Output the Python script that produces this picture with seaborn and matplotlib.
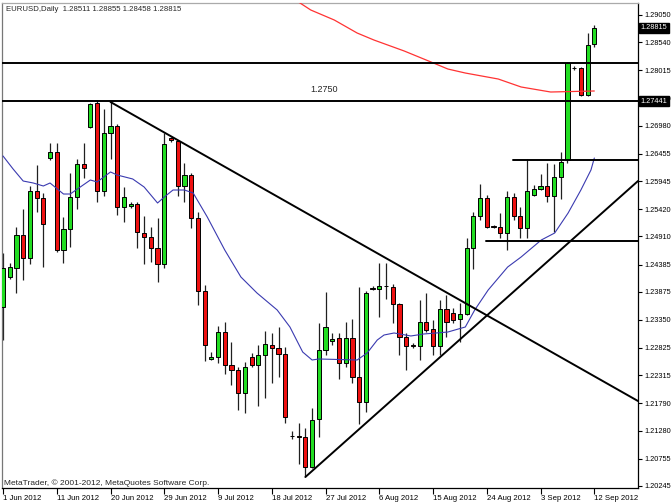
import numpy as np
import pandas as pd
import matplotlib
matplotlib.use("Agg")
import matplotlib.pyplot as plt
import matplotlib.transforms as mtransforms
import seaborn as sns

# daily EURUSD candles, bar 0 = 1 Jun 2012 ... bar 88 = 12 Sep 2012 (sunday bars included)
opens = [
    1.23591, 1.24152, 1.24320, 1.24937, 1.24507, 1.25759, 1.25628, 1.26376, 1.26488, 1.24656,
    1.25049, 1.25647, 1.26264, 1.26956, 1.27404, 1.25759, 1.26844, 1.26974, 1.25460, 1.25479,
    1.25516, 1.24974, 1.24899, 1.24694, 1.24395, 1.26750, 1.26694, 1.25853, 1.26058, 1.25255,
    1.23890, 1.22619, 1.22656, 1.23123, 1.22506, 1.22413, 1.21983, 1.22656, 1.22506, 1.22693,
    1.22880, 1.22824, 1.22712, 1.21179, 1.21179, 1.21160, 1.20599, 1.21497, 1.22787, 1.22955,
    1.23011, 1.22544, 1.23011, 1.22282, 1.21815, 1.23955, 1.23927, 1.23983, 1.23965, 1.23647,
    1.23030, 1.22880, 1.22862, 1.23310, 1.23179, 1.22862, 1.23553, 1.23478, 1.23366, 1.23460,
    1.24694, 1.25292, 1.25628, 1.25105, 1.25086, 1.24974, 1.25647, 1.25292, 1.25068, 1.25684,
    1.25797, 1.25853, 1.25666, 1.26021, 1.26339, 1.28059, 1.28059, 1.27554, 1.28511,
]
highs = [
    1.24600, 1.24413, 1.25086, 1.25423, 1.25853, 1.26245, 1.25722, 1.26657, 1.26657, 1.25273,
    1.26096, 1.26358, 1.26657, 1.27404, 1.27461, 1.27292, 1.27423, 1.27012, 1.25834, 1.25554,
    1.25554, 1.25292, 1.25086, 1.25255, 1.26844, 1.26769, 1.26713, 1.26283, 1.26096, 1.25367,
    1.24002, 1.22749, 1.23235, 1.23310, 1.22936, 1.22469, 1.22562, 1.22731, 1.22880, 1.23142,
    1.23105, 1.23217, 1.22843, 1.21272, 1.21422, 1.21329, 1.21702, 1.23292, 1.23871, 1.23105,
    1.23105, 1.23310, 1.23366, 1.23965, 1.23890, 1.23983, 1.24413, 1.24413, 1.24021, 1.23665,
    1.23105, 1.22918, 1.23722, 1.23852, 1.23348, 1.23722, 1.23815, 1.23572, 1.23665, 1.24881,
    1.25367, 1.25890, 1.25684, 1.25124, 1.25348, 1.25759, 1.25722, 1.25460, 1.26358, 1.25871,
    1.26077, 1.26283, 1.26264, 1.26488, 1.28171, 1.28096, 1.28070, 1.28713, 1.28855,
]
lows = [
    1.22974, 1.24114, 1.23852, 1.24095, 1.24395, 1.25367, 1.24338, 1.26339, 1.24619, 1.24413,
    1.24712, 1.25423, 1.26002, 1.26937, 1.25554, 1.25666, 1.26358, 1.25311, 1.25180, 1.25441,
    1.24694, 1.24395, 1.24432, 1.24058, 1.24320, 1.26675, 1.25666, 1.25554, 1.25068, 1.23628,
    1.22581, 1.22600, 1.22544, 1.22338, 1.22132, 1.21665, 1.21609, 1.22469, 1.21740, 1.21889,
    1.22170, 1.22282, 1.21422, 1.21123, 1.20656, 1.20413, 1.20580, 1.21160, 1.22693, 1.22880,
    1.22245, 1.22469, 1.22170, 1.21403, 1.21628, 1.23908, 1.23404, 1.23740, 1.23292, 1.22693,
    1.22413, 1.22824, 1.22600, 1.23123, 1.22693, 1.22693, 1.23030, 1.23292, 1.22936, 1.23441,
    1.24301, 1.25217, 1.25068, 1.25068, 1.24881, 1.24656, 1.25217, 1.24881, 1.24881, 1.25666,
    1.25778, 1.25554, 1.24993, 1.25610, 1.26283, 1.28021, 1.27535, 1.27535, 1.28458,
]
closes = [
    1.24320, 1.24338, 1.24937, 1.24507, 1.25759, 1.25628, 1.25142, 1.26488, 1.24656, 1.25049,
    1.25647, 1.26264, 1.26189, 1.27386, 1.25759, 1.26844, 1.26974, 1.25460, 1.25647, 1.25516,
    1.24993, 1.24899, 1.24694, 1.24395, 1.26638, 1.26713, 1.25853, 1.26058, 1.25255, 1.23890,
    1.22880, 1.22656, 1.23123, 1.22506, 1.22413, 1.21983, 1.22469, 1.22506, 1.22693, 1.22899,
    1.22824, 1.22712, 1.21534, 1.21179, 1.21160, 1.20599, 1.21478, 1.22787, 1.23217, 1.22992,
    1.22544, 1.23011, 1.22282, 1.21815, 1.23852, 1.23927, 1.23983, 1.23983, 1.23647, 1.23030,
    1.22862, 1.22862, 1.23310, 1.23161, 1.22862, 1.23553, 1.23310, 1.23348, 1.23460, 1.24694,
    1.25292, 1.25628, 1.25086, 1.25086, 1.24974, 1.25647, 1.25292, 1.25068, 1.25759, 1.25797,
    1.25853, 1.25666, 1.26021, 1.26301, 1.28152, 1.28059, 1.27554, 1.28489, 1.28815,
]

date_tick_bars = [0, 8, 16, 24, 32, 40, 48, 56, 64, 72, 80, 88]
date_labels = ["1 Jun 2012", "11 Jun 2012", "20 Jun 2012", "29 Jun 2012", "9 Jul 2012",
               "18 Jul 2012", "27 Jul 2012", "6 Aug 2012", "15 Aug 2012", "24 Aug 2012",
               "3 Sep 2012", "12 Sep 2012"]

price_ticks = [1.29050, 1.28540, 1.28015, 1.27490, 1.26980, 1.26455, 1.25945, 1.25420,
               1.24910, 1.24385, 1.23875, 1.23350, 1.22825, 1.22315, 1.21790, 1.21280,
               1.20755, 1.20245]

# moving averages (bar position, price)
ma_fast_bars = [0, 1.5, 3, 4.5, 6, 7, 9, 10, 13, 14, 16, 17, 19.3, 21, 23, 24, 25.3, 27, 28.3,
                30.4, 33, 35.4, 37.8, 40.8, 42.7, 44.6, 46, 47, 52.7, 54.2, 55.7, 56.7, 58.2,
                60.7, 62.6, 66.2, 68.8, 70.2, 72.2, 75.1, 77.1, 80.1, 82.1, 84.1, 86, 87.5, 88]
ma_fast_values = [1.26414, 1.26171, 1.25946, 1.25909, 1.25853, 1.25909, 1.25703, 1.25703,
                  1.25965, 1.25928, 1.26115, 1.26058, 1.25984, 1.25834, 1.25535, 1.25647,
                  1.25778, 1.25778, 1.25722, 1.25273, 1.24656, 1.24152, 1.23852, 1.23535,
                  1.23217, 1.22749, 1.22600, 1.22619, 1.22600, 1.22731, 1.22974, 1.23067,
                  1.23105, 1.23049, 1.23086, 1.23123, 1.23217, 1.23535, 1.23908, 1.24338,
                  1.24525, 1.24843, 1.24974, 1.25348, 1.25778, 1.26152, 1.26376]
ma_slow_bars = [42.7, 44.2, 45.8, 49.3, 52.7, 55.2, 59.7, 63.7, 66.2, 68.8, 73.7, 77.1, 81.5, 88]
ma_slow_values = [1.29386, 1.29274, 1.29143, 1.28956, 1.28713, 1.28582, 1.28377, 1.28171,
                  1.28040, 1.27965, 1.27853, 1.27704, 1.27610, 1.27629]

# drawn objects
full_hlines = [1.28153, 1.27441]
seg_hline_start = [75.9, 71.9]
seg_hline_price = [1.26339, 1.24825]
trend_down_bars = [16, 94.5]
trend_down_prices = [1.27423, 1.21833]
trend_up_bars = [45, 94.5]
trend_up_prices = [1.20413, 1.25946]

candles = pd.DataFrame({"open": opens, "high": highs, "low": lows, "close": closes})
candles["bar"] = np.arange(len(candles))

sns.set_style("white")
plt.rcParams["font.family"] = ["Liberation Sans", "DejaVu Sans"]

fig = plt.figure(figsize=(6.72, 5.04), dpi=100)
ax = fig.add_axes([2 / 672, 16 / 504, 636 / 672, 485 / 504])
x_left, x_right = -0.15, 94.5
ax.set_xlim(x_left, x_right)
ax.set_ylim(1.20207, 1.29274)

# wicks and bodies
ax.vlines(candles["bar"], candles["low"], candles["high"], colors="#202020", linewidth=0.9, zorder=2)
body_colors = np.where(candles["close"] > candles["open"], "#22dd22",
                       np.where(candles["close"] < candles["open"], "#ee1111", "black"))
bottoms = candles[["open", "close"]].min(axis=1)
heights = (candles["close"] - candles["open"]).abs()
ax.bar(candles["bar"], heights, bottom=bottoms, width=0.62, color=body_colors,
       edgecolor="black", linewidth=0.7, zorder=3)

ma = pd.DataFrame({"bar": ma_fast_bars, "price": ma_fast_values})
sns.lineplot(data=ma, x="bar", y="price", color="#3a3ab0", linewidth=0.8, sort=False,
             estimator=None, ax=ax, zorder=4)
ma_slow = pd.DataFrame({"bar": ma_slow_bars, "price": ma_slow_values})
sns.lineplot(data=ma_slow, x="bar", y="price", color="#ff3333", linewidth=0.9, sort=False,
             estimator=None, ax=ax, zorder=4)

for p in full_hlines:
    ax.axhline(p, color="black", linewidth=1.4, zorder=5)
for b, p in zip(seg_hline_start, seg_hline_price):
    ax.plot([b, x_right], [p, p], color="black", linewidth=1.4, zorder=5)
ax.plot(trend_down_bars, trend_down_prices, color="black", linewidth=1.4, zorder=5)
ax.plot(trend_up_bars, trend_up_prices, color="black", linewidth=1.4, zorder=5)

ax.text(45.8, 1.27666, "1.2750", fontsize=6.5, ha="left", va="center", zorder=6)

# axes cosmetics
ax.set_xlabel("")
ax.set_ylabel("")
ax.yaxis.tick_right()
ax.set_yticks(price_ticks)
ax.set_yticklabels([f"{v:.5f}" for v in price_ticks])
ax.set_xticks(date_tick_bars)
ax.set_xticklabels(date_labels, ha="left")
ax.tick_params(axis="y", which="both", right=True, left=False, length=3, width=0.8,
               pad=1.5, labelsize=5.3, colors="black")
ax.tick_params(axis="x", which="both", bottom=True, length=4, width=0.8, pad=1,
               labelsize=5.6, colors="black")
for s in ax.spines.values():
    s.set_color("black")
    s.set_linewidth(0.9)
ax.spines["left"].set_color("#777777")
ax.spines["top"].set_color("#aaaaaa")

ax.text(0.006, 0.993, "EURUSD,Daily  1.28511 1.28855 1.28458 1.28815", transform=ax.transAxes,
        fontsize=5.6, ha="left", va="top")
ax.text(0.003, 0.002, "MetaTrader, \u00a9 2001-2012, MetaQuotes Software Corp.", transform=ax.transAxes,
        fontsize=6, ha="left", va="bottom")

trans = mtransforms.blended_transform_factory(ax.transAxes, ax.transData)
for p in [closes[-1], full_hlines[1]]:
    ax.text(1.004, p, f"{p:.5f}", transform=trans, fontsize=5.3, color="white",
            ha="left", va="center", zorder=10, clip_on=False,
            bbox=dict(boxstyle="square,pad=0.2", facecolor="black", edgecolor="black"))

fig.savefig("out.png", dpi=100)
plt.close(fig)
